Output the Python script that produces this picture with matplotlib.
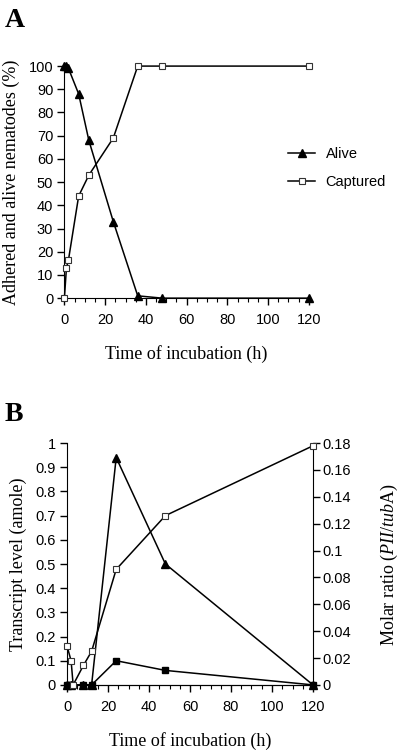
import matplotlib
matplotlib.use('agg')
from matplotlib import pyplot
from matplotlib import rcParams
from matplotlib.ticker import MultipleLocator

rcParams['font.family'] = 'Liberation Sans'
rcParams['mathtext.fontset'] = 'custom'
rcParams['mathtext.it'] = 'Liberation Serif:italic'
rcParams['mathtext.rm'] = 'Liberation Serif'

# panel A: nematodes
alive_t = [0, 1, 2, 7, 12, 24, 36, 48, 120]
alive_pct = [100, 100, 99, 88, 68, 33, 1, 0, 0]
capt_t = [0, 1, 2, 7, 12, 24, 36, 48, 120]
capt_pct = [0, 13, 16.5, 44, 53, 69, 100, 100, 100]

# panel B: transcripts
tri_t = [0, 2, 8, 12, 24, 48, 120]
tri_level = [0, 0, 0, 0, 0.94, 0.5, 0]
sq_t = [0, 1, 2, 8, 12, 24, 48, 120]
sq_level = [0, 0, 0, 0, 0, 0.10, 0.06, 0]
ratio_t = [0, 2, 3, 8, 12, 24, 48, 120]
ratio_val = [0.029, 0.018, 0.0, 0.0145, 0.025, 0.086, 0.126, 0.178]

serif = 'Liberation Serif'
tick_fs = 10.5
lab_fs = 13

def style_x(ax):
  ax.set_xlim(0, 120)
  ax.set_xticks(range(0, 121, 20))
  ax.xaxis.set_minor_locator(MultipleLocator(5))
  ax.tick_params(axis='x', which='major', length=5, width=1, labelsize=tick_fs, pad=6)
  ax.tick_params(axis='x', which='minor', length=3, width=0.8)
  ax.tick_params(axis='y', which='major', length=5, width=1, labelsize=tick_fs, pad=3)
  ax.spines['top'].set_visible(False)

fig = pyplot.figure(figsize=(4, 7.51), dpi=100)

# ---- A
ax = fig.add_axes([0.161, 0.603, 0.611, 0.309])
ax.plot(alive_t, alive_pct, color='black', lw=1.1, marker='^', ms=5.5,
        mfc='black', mec='black', clip_on=False, label='Alive', zorder=3)
ax.plot(capt_t, capt_pct, color='black', lw=1.1, marker='s', ms=5,
        mfc='white', mec='#333333', mew=0.8, clip_on=False, label='Captured', zorder=3)
style_x(ax)
ax.set_ylim(0, 100)
ax.set_yticks(range(0, 101, 10))
ax.spines['right'].set_visible(False)
ax.set_xlabel('Time of incubation (h)', family=serif, fontsize=lab_fs, labelpad=13)
ax.set_ylabel('Adhered and alive nematodes (%)', family=serif, fontsize=lab_fs, labelpad=6)
ax.legend(loc='center left', bbox_to_anchor=(0.86, 0.56), frameon=False,
          fontsize=10.5, handlelength=1.9, labelspacing=1.0, handletextpad=0.7)
fig.text(0.012, 0.964, 'A', family=serif, fontsize=20, fontweight='bold')

# ---- B
bx = fig.add_axes([0.1675, 0.088, 0.615, 0.322])
bx.plot(tri_t, tri_level, color='black', lw=1.1, marker='^', ms=5.5,
        mfc='black', mec='black', clip_on=False, zorder=3)
bx.plot(sq_t, sq_level, color='black', lw=1.1, marker='s', ms=5,
        mfc='black', mec='black', clip_on=False, zorder=4)
style_x(bx)
bx.set_ylim(0, 1)
bx.set_yticks([i / 10 for i in range(11)])
bx.set_yticklabels(['0'] + ['0.%d' % i for i in range(1, 10)] + ['1'])
bx.spines['right'].set_visible(False)
bx.set_xlabel('Time of incubation (h)', family=serif, fontsize=lab_fs, labelpad=13)
bx.set_ylabel('Transcript level (amole)', family=serif, fontsize=lab_fs, labelpad=6)

rx = bx.twinx()
rx.plot(ratio_t, ratio_val, color='black', lw=1.1, marker='s', ms=5,
        mfc='white', mec='#333333', mew=0.8, clip_on=False, zorder=3)
rx.set_ylim(0, 0.18)
rticks = [i * 0.02 for i in range(10)]
rx.set_yticks(rticks)
rx.set_yticklabels(['0', '0.02', '0.04', '0.06', '0.08', '0.1', '0.12', '0.14', '0.16', '0.18'])
rx.tick_params(axis='y', length=5, width=1, labelsize=tick_fs, pad=2)
rx.spines['top'].set_visible(False)
rx.spines['left'].set_visible(False)
rx.set_ylabel(r'Molar ratio ($\mathit{PII/tub}$A)', family=serif, fontsize=lab_fs,
              rotation=90, labelpad=20)
fig.text(0.012, 0.44, 'B', family=serif, fontsize=20, fontweight='bold')

fig.savefig('out.png', dpi=100)
pyplot.close(fig)
